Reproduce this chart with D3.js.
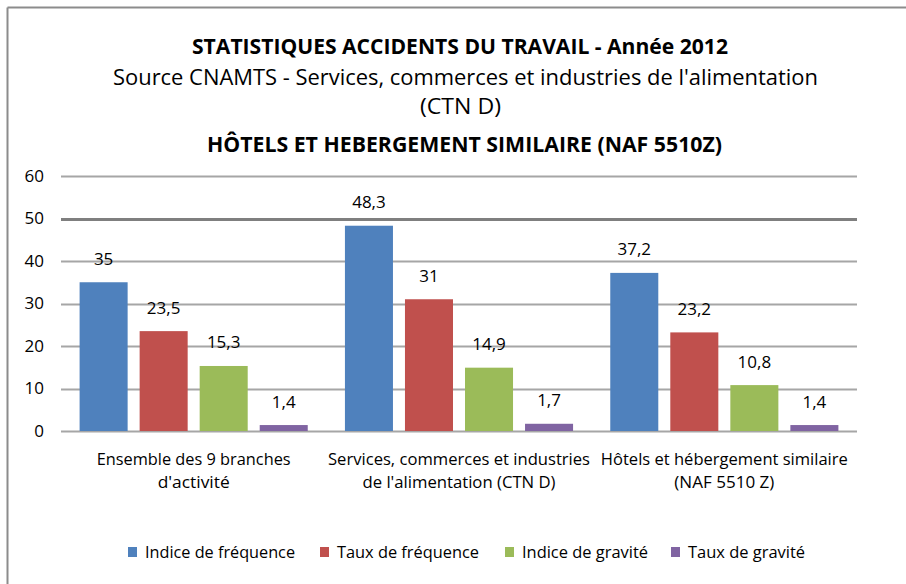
<!DOCTYPE html>
<html>
<head>
<meta charset="utf-8">
<script src="https://cdn.jsdelivr.net/npm/d3@7"></script>
<style>
  body { margin: 0; background: #fff; }
  text { font-family: "Open Sans", "Liberation Sans", sans-serif; fill: #000; }
</style>
</head>
<body>
<svg width="906" height="584"></svg>
<script>
(function () {

  // categories (two lines each)
  var categories = [
    ['Ensemble des 9 branches', "d'activité"],
    ['Services, commerces et industries', "de l'alimentation (CTN D)"],
    ['Hôtels et hébergement similaire', '(NAF 5510 Z)']
  ]
  var seriesNames = ['Indice de fréquence', 'Taux de fréquence', 'Indice de gravité', 'Taux de gravité']
  var seriesColors = ['#4f81bd', '#c0504d', '#9bbb59', '#8064a2']
  var indiceFrequence = [35, 48.3, 37.2]
  var tauxFrequence = [23.5, 31, 23.2]
  var indiceGravite = [15.3, 14.9, 10.8]
  var tauxGravite = [1.4, 1.7, 1.4]
  var yTicks = [0, 10, 20, 30, 40, 50, 60]

  var series = [indiceFrequence, tauxFrequence, indiceGravite, tauxGravite]

  var svg = d3.select('svg')

  // chart frame: only top and left edges are visible
  svg.append('line').attr('x1', 7.5).attr('x2', 906).attr('y1', 7.5).attr('y2', 7.5)
    .attr('stroke', '#8c8c8c').attr('stroke-width', 2)
  svg.append('line').attr('x1', 7.5).attr('x2', 7.5).attr('y1', 7.5).attr('y2', 584)
    .attr('stroke', '#8c8c8c').attr('stroke-width', 2)

  // titles: [text, x1, x2, y, bold]
  var titles = [
    ['STATISTIQUES ACCIDENTS DU TRAVAIL - Année 2012', 192, 728, 45, true],
    ["Source CNAMTS -  Services, commerces et industries de l'alimentation", 113, 818, 76, false],
    ['(CTN D)', 420, 501, 105, false],
    ['HÔTELS ET HEBERGEMENT SIMILAIRE (NAF 5510Z)', 207, 722, 143, true]
  ]
  titles.forEach(function (t) {
    svg.append('text')
      .attr('x', t[1]).attr('y', t[3])
      .attr('dominant-baseline', 'central')
      .attr('font-size', 22)
      .attr('font-weight', t[4] ? 'bold' : 'normal')
      .attr('textLength', t[2] - t[1])
      .attr('lengthAdjust', 'spacingAndGlyphs')
      .text(t[0])
  })

  var x0 = d3.scaleBand().domain(d3.range(categories.length)).range([61, 857]).paddingInner(0).paddingOuter(0)
  var x1 = d3.scaleBand().domain(d3.range(series.length)).range([18.6, x0.bandwidth() - 18.6]).paddingInner(0.2).paddingOuter(0)
  var y = d3.scaleLinear().domain([0, 60]).range([431, 176])

  // gridlines
  svg.append('g').selectAll('line')
    .data(yTicks)
    .enter().append('line')
    .attr('x1', 61).attr('x2', 857)
    .attr('y1', d => Math.round(y(d)) + 0.5).attr('y2', d => Math.round(y(d)) + 0.5)
    .attr('stroke', d => d === 50 ? '#7f7f7f' : '#a6a6a6')
    .attr('stroke-width', d => d === 50 ? 3 : 2)

  // y axis labels
  var yAxis = d3.axisLeft(y).tickValues(yTicks).tickSize(0).tickPadding(0)
  var gy = svg.append('g').attr('transform', 'translate(44,0)').call(yAxis)
  gy.select('.domain').remove()
  gy.selectAll('text').attr('font-size', 17).attr('fill', '#000')
    .style('font-family', '"Open Sans", sans-serif')

  // bars
  var groups = svg.append('g').selectAll('g')
    .data(series)
    .enter().append('g')
    .attr('fill', (d, i) => seriesColors[i])

  groups.selectAll('rect')
    .data((d, i) => d.map((v, j) => ({ s: i, c: j, v: v })))
    .enter().append('rect')
    .attr('x', d => x0(d.c) + x1(d.s))
    .attr('width', x1.bandwidth())
    .attr('y', d => y(d.v))
    .attr('height', d => y(0) - y(d.v))

  // value labels
  var fmt = v => String(v).replace('.', ',')
  groups.selectAll('text')
    .data((d, i) => d.map((v, j) => ({ s: i, c: j, v: v })))
    .enter().append('text')
    .attr('x', d => x0(d.c) + x1(d.s) + x1.bandwidth() / 2)
    .attr('y', d => y(d.v) - 24)
    .attr('text-anchor', 'middle')
    .attr('dominant-baseline', 'central')
    .attr('font-size', 17)
    .attr('fill', '#000')
    .text(d => fmt(d.v))

  // category labels
  var catWidths = [[194, 72], [262, 193], [247, 100]]
  categories.forEach(function (lines, i) {
    lines.forEach(function (line, k) {
      svg.append('text')
        .attr('x', x0(i) + x0.bandwidth() / 2)
        .attr('y', 459 + k * 23)
        .attr('text-anchor', 'middle')
        .attr('dominant-baseline', 'central')
        .attr('font-size', 16)
        .attr('textLength', catWidths[i][k])
        .attr('lengthAdjust', 'spacingAndGlyphs')
        .text(line)
    })
  })

  // legend
  var legendX = [128, 320, 505, 671]
  var legendW = [150, 142, 126, 117]
  var legend = svg.append('g').selectAll('g')
    .data(seriesNames)
    .enter().append('g')
    .attr('transform', (d, i) => 'translate(' + legendX[i] + ',552)')
  legend.append('rect')
    .attr('x', 0).attr('y', -5).attr('width', 9).attr('height', 10)
    .attr('fill', (d, i) => seriesColors[i])
  legend.append('text')
    .attr('x', 17).attr('y', 0)
    .attr('dominant-baseline', 'central')
    .attr('font-size', 16)
    .attr('textLength', (d, i) => legendW[i])
    .attr('lengthAdjust', 'spacingAndGlyphs')
    .text(d => d)

})()
</script>
</body>
</html>
